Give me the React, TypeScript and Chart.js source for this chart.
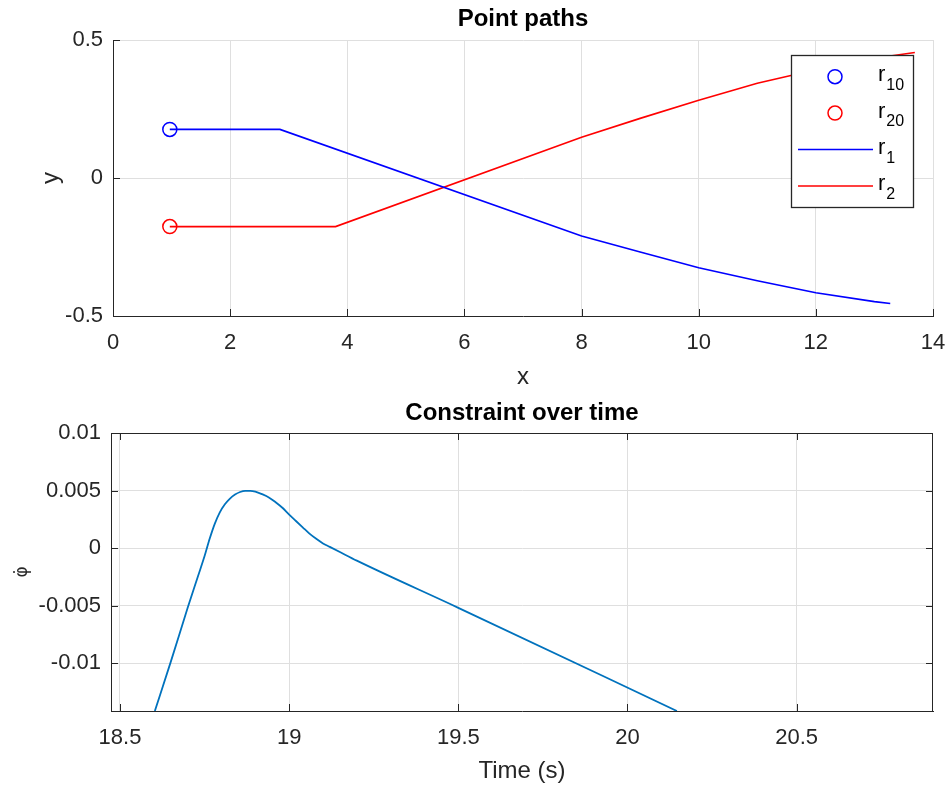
import React, { useEffect, useRef } from 'react';
import { Chart, registerables } from 'chart.js';

Chart.register(...registerables);

const FONT = '"Liberation Sans", Arial, Helvetica, sans-serif';

// ---------- Top chart: Point paths ----------
const r10X = [0.97];
const r10Y = [0.176];
const r20X = [0.97];
const r20Y = [-0.176];
const r1X = [0.97, 2.85, 8, 9, 10, 11, 12, 13, 13.27];
const r1Y = [0.176, 0.176, -0.21, -0.268, -0.325, -0.372, -0.416, -0.448, -0.455];
const r2X = [0.97, 3.8, 8, 9, 10, 11, 12, 13, 13.69];
const r2Y = [-0.176, -0.176, 0.148, 0.216, 0.282, 0.343, 0.392, 0.434, 0.455];

const topXTicks = [0, 2, 4, 6, 8, 10, 12, 14];
const topXTickLabels = ['0', '2', '4', '6', '8', '10', '12', '14'];
const topYTicks = [-0.5, 0, 0.5];
const topYTickLabels = ['-0.5', '0', '0.5'];

const legendBase = ['r', 'r', 'r', 'r'];
const legendSub = ['10', '20', '1', '2'];

// ---------- Bottom chart: Constraint over time ----------
const timeX = [
  18.603, 18.65, 18.7, 18.73, 18.75, 18.765, 18.78, 18.795, 18.81, 18.825,
  18.84, 18.855, 18.87, 18.885, 18.9, 18.92, 18.94, 18.96, 18.98, 19.0,
  19.02, 19.04, 19.06, 19.08, 19.1, 19.12, 19.15, 19.2, 19.5, 20.146,
];
const phiDotY = [
  -0.01417, -0.0099, -0.0052, -0.0025, -0.0007, 0.0008, 0.0021, 0.0031, 0.0038, 0.0043,
  0.00465, 0.00487, 0.00497, 0.00497, 0.0049, 0.00468, 0.0044, 0.00398, 0.0035, 0.0029,
  0.00235, 0.0018, 0.00125, 0.0008, 0.0004, 0.0001, -0.00035, -0.0011, -0.0052, -0.01417,
];
const botXTicks = [18.5, 19, 19.5, 20, 20.5];
const botXTickLabels = ['18.5', '19', '19.5', '20', '20.5'];
const botYTicks = [-0.01, -0.005, 0, 0.005, 0.01];
const botYTickLabels = ['-0.01', '-0.005', '0', '0.005', '0.01'];

const pts = (xs: number[], ys: number[]) => xs.map((x, i) => ({ x, y: ys[i] }));

function axis(opts: {
  ticks: number[];
  labels: string[];
  min: number;
  max: number;
  size: number;
  isX: boolean;
  title: string;
  titleFont: any;
  titlePad: any;
  tickPad: number;
}) {
  const { ticks, labels, min, max, size, isX, title, titleFont, titlePad, tickPad } = opts;
  return {
    type: 'linear',
    position: isX ? 'bottom' : 'left',
    min,
    max,
    afterBuildTicks: (s: any) => {
      s.ticks = ticks.map((v) => ({ value: v }));
    },
    afterFit: (s: any) => {
      if (isX) s.height = size;
      else s.width = size;
    },
    ticks: {
      autoSkip: false,
      maxRotation: 0,
      minRotation: 0,
      padding: isX ? 0 : tickPad,
      color: '#262626',
      font: { family: FONT, size: 22 },
      callback: (_v: any, i: number) => labels[i],
    },
    grid: isX
      ? { color: '#dfdfdf', lineWidth: 1, drawTicks: true, tickLength: tickPad, tickColor: 'rgba(0,0,0,0)' }
      : { color: '#dfdfdf', lineWidth: 1, drawTicks: false },
    border: { display: true, color: '#262626', width: 1 },
    title: {
      display: true,
      text: title,
      color: '#262626',
      font: titleFont,
      padding: titlePad,
    },
  };
}

function innerTicks(box: boolean) {
  return {
    id: 'innerTicks',
    afterDatasetsDraw(chart: any) {
      const { ctx, chartArea: a, scales } = chart;
      const x = scales.x;
      const y = scales.y;
      const L = 7;
      ctx.save();
      ctx.strokeStyle = '#262626';
      ctx.lineWidth = 1;
      ctx.beginPath();
      x.ticks.forEach((t: any) => {
        const px = Math.round(x.getPixelForValue(t.value)) + 0.5;
        ctx.moveTo(px, a.bottom);
        ctx.lineTo(px, a.bottom - L);
        if (box) {
          ctx.moveTo(px, a.top);
          ctx.lineTo(px, a.top + L);
        }
      });
      y.ticks.forEach((t: any) => {
        const py = Math.round(y.getPixelForValue(t.value)) + 0.5;
        ctx.moveTo(a.left, py);
        ctx.lineTo(a.left + L, py);
        if (box) {
          ctx.moveTo(a.right, py);
          ctx.lineTo(a.right - L, py);
        }
      });
      if (box) {
        const t = Math.round(a.top) + 0.5;
        const r = Math.round(a.right) - 0.5;
        ctx.moveTo(Math.round(a.left), t);
        ctx.lineTo(r + 0.5, t);
        ctx.moveTo(r, Math.round(a.top));
        ctx.lineTo(r, Math.round(a.bottom) + 0.5);
      }
      ctx.stroke();
      ctx.restore();
    },
  };
}

const legendPlugin = {
  id: 'matlabLegend',
  afterDraw(chart: any) {
    const { ctx, chartArea: a } = chart;
    const bw = 122;
    const bh = 152;
    const bx = Math.round(a.right - 142);
    const by = Math.round(a.top + 15);
    ctx.save();
    ctx.fillStyle = '#ffffff';
    ctx.fillRect(bx, by, bw, bh);
    ctx.strokeStyle = '#262626';
    ctx.lineWidth = 1.3;
    ctx.strokeRect(bx + 0.5, by + 0.5, bw, bh);
    chart.data.datasets.forEach((ds: any, i: number) => {
      const cy = by + 21.7 + 36.4 * i;
      ctx.strokeStyle = ds.borderColor;
      ctx.lineWidth = 1.5;
      ctx.beginPath();
      if (ds.showLine) {
        ctx.moveTo(bx + 7, cy);
        ctx.lineTo(bx + 82, cy);
      } else {
        ctx.arc(bx + 44, cy, 7, 0, Math.PI * 2);
      }
      ctx.stroke();
      ctx.fillStyle = '#000000';
      ctx.textBaseline = 'alphabetic';
      ctx.textAlign = 'left';
      ctx.font = `22px ${FONT}`;
      const tx = bx + 87;
      ctx.fillText(legendBase[i], tx, cy + 4.5);
      const w = ctx.measureText(legendBase[i]).width;
      ctx.font = `16px ${FONT}`;
      ctx.fillText(legendSub[i], tx + w + 1, cy + 13);
    });
    ctx.restore();
  },
};

function topConfig(): any {
  return {
    type: 'scatter',
    data: {
      datasets: [
        { label: 'r10', data: pts(r10X, r10Y), showLine: false, borderColor: '#0000ff', backgroundColor: 'rgba(0,0,0,0)', pointRadius: 7, pointBorderWidth: 1.5, pointStyle: 'circle' },
        { label: 'r20', data: pts(r20X, r20Y), showLine: false, borderColor: '#ff0000', backgroundColor: 'rgba(0,0,0,0)', pointRadius: 7, pointBorderWidth: 1.5, pointStyle: 'circle' },
        { label: 'r1', data: pts(r1X, r1Y), showLine: true, borderColor: '#0000ff', borderWidth: 1.6, pointRadius: 0, tension: 0 },
        { label: 'r2', data: pts(r2X, r2Y), showLine: true, borderColor: '#ff0000', borderWidth: 1.6, pointRadius: 0, tension: 0 },
      ],
    },
    options: {
      responsive: false,
      animation: false,
      devicePixelRatio: 1,
      events: [],
      layout: { padding: { left: 0, right: 17, top: 0, bottom: 0 } },
      plugins: {
        legend: { display: false },
        tooltip: { enabled: false },
        title: {
          display: true,
          fullSize: false,
          text: 'Point paths',
          color: '#000000',
          font: { family: FONT, size: 24, weight: 'bold' },
          padding: { top: 5.4, bottom: 5.8 },
        },
      },
      scales: {
        x: axis({ ticks: topXTicks, labels: topXTickLabels, min: 0, max: 14, size: 78, isX: true, title: 'x', titleFont: { family: FONT, size: 24 }, titlePad: { top: 0, bottom: 2.6 }, tickPad: 14 }),
        y: axis({ ticks: topYTicks, labels: topYTickLabels, min: -0.5, max: 0.5, size: 113, isX: false, title: 'y', titleFont: { family: FONT, size: 24 }, titlePad: { top: 37, bottom: 0 }, tickPad: 10 }),
      },
    },
    plugins: [innerTicks(false), legendPlugin],
  };
}

function bottomConfig(): any {
  return {
    type: 'scatter',
    data: {
      datasets: [
        { label: 'phi', data: pts(timeX, phiDotY), showLine: true, borderColor: '#0072bd', borderWidth: 1.8, pointRadius: 0, cubicInterpolationMode: 'monotone' },
      ],
    },
    options: {
      responsive: false,
      animation: false,
      devicePixelRatio: 1,
      events: [],
      layout: { padding: { left: 0, right: 17, top: 0, bottom: 0 } },
      plugins: {
        legend: { display: false },
        tooltip: { enabled: false },
        title: {
          display: true,
          fullSize: false,
          text: 'Constraint over time',
          color: '#000000',
          font: { family: FONT, size: 24, weight: 'bold' },
          padding: { top: 5, bottom: 5.2 },
        },
      },
      scales: {
        x: axis({ ticks: botXTicks, labels: botXTickLabels, min: 18.4734, max: 20.903, size: 77, isX: true, title: 'Time (s)', titleFont: { family: FONT, size: 24 }, titlePad: { top: 0, bottom: 2.6 }, tickPad: 14 }),
        y: axis({ ticks: botYTicks, labels: botYTickLabels, min: -0.01417, max: 0.01, size: 111, isX: false, title: 'φ̇', titleFont: { family: '"DejaVu Sans", sans-serif', size: 17 }, titlePad: { top: 12.5, bottom: 0 }, tickPad: 10 }),
      },
    },
    plugins: [innerTicks(true)],
  };
}

function ChartCanvas({ make, top }: { make: () => any; top: number }) {
  const ref = useRef<HTMLCanvasElement | null>(null);
  useEffect(() => {
    if (!ref.current) return;
    const c = new Chart(ref.current, make());
    return () => c.destroy();
  }, []);
  return (
    <canvas
      ref={ref}
      width={950}
      height={394}
      style={{ position: 'absolute', left: 0, top, width: 950, height: 394, display: 'block' }}
    />
  );
}

export default function App() {
  return (
    <div style={{ position: 'absolute', left: 0, top: 0, width: 950, height: 788, background: '#ffffff' }}>
      <ChartCanvas make={topConfig} top={0} />
      <ChartCanvas make={bottomConfig} top={394} />
    </div>
  );
}
